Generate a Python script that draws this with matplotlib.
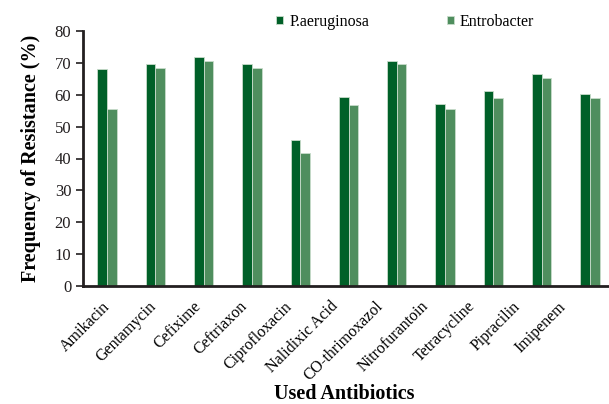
import numpy as np
import matplotlib.pyplot as plt

antibiotics = ['Amikacin', 'Gentamycin', 'Cefixime', 'Ceftriaxon', 'Ciprofloxacin',
               'Nalidixic Acid', 'CO-thrimoxazol', 'Nitrofurantoin', 'Tetracycline',
               'Pipracilin', 'Imipenem']
p_aeruginosa = [68.2, 69.5, 71.7, 69.5, 45.9, 59.2, 70.5, 57.2, 61.3, 66.4, 60.2]
entrobacter = [55.6, 68.3, 70.6, 68.3, 41.8, 56.8, 69.5, 55.6, 59.1, 65.1, 59.1]

plt.rcParams['font.family'] = ['Liberation Serif', 'DejaVu Serif']

fig = plt.figure(figsize=(6.09, 4.04), dpi=100)
ax = fig.add_axes([83 / 609, 1 - 286 / 404, 531 / 609, 255 / 404])

x = np.arange(len(antibiotics))
w = 0.2
ax.bar(x - w / 2, p_aeruginosa, w, color='#006028', edgecolor='#c8dccb', linewidth=0.6,
       label='P.aeruginosa')
ax.bar(x + w / 2, entrobacter, w, color='#4f8e5e', edgecolor='#c8dccb', linewidth=0.6,
       label='Entrobacter')

ax.set_xlim(-0.5, len(antibiotics) - 0.5)
ax.set_ylim(0, 80)
ax.set_yticks(range(0, 81, 10))
# labels in the original sit a little tighter than the bar groups
ax.set_xticks(x * 0.943 - 0.1)
ax.set_xticklabels(antibiotics, rotation=45, ha='right', rotation_mode='anchor', fontsize=11.5)
ax.tick_params(axis='x', length=0, pad=9)
ax.tick_params(axis='y', direction='out', length=5, width=1.2, labelsize=12, colors='#231f20')

for s in ['top', 'right']:
    ax.spines[s].set_visible(False)
for s in ['left', 'bottom']:
    ax.spines[s].set_linewidth(2)
    ax.spines[s].set_color('#231f20')

ax.set_ylabel('Frequency of Resistance (%)', fontsize=14.5, fontweight='bold', labelpad=10)
ax.set_xlabel('Used Antibiotics', fontsize=14.5, fontweight='bold')
ax.xaxis.set_label_coords(0.4925, -0.385)

ax.legend(loc='upper left', bbox_to_anchor=(266 / 609, 0.99), bbox_transform=fig.transFigure,
          ncol=2, frameon=False, fontsize=11.5, handlelength=0.45, handleheight=0.45,
          handletextpad=0.4, columnspacing=4.85, borderaxespad=0.2)

fig.savefig('out.png', dpi=100)
